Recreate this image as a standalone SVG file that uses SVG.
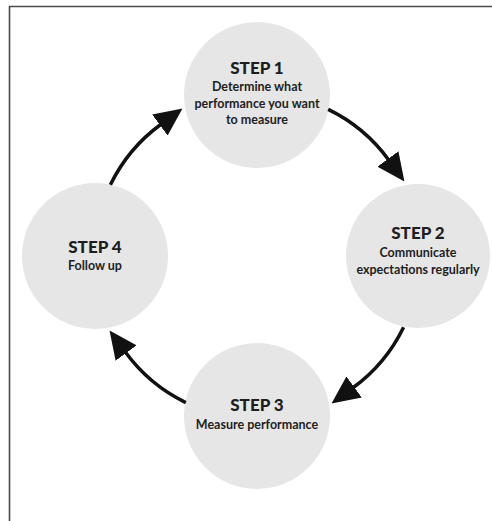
<svg xmlns="http://www.w3.org/2000/svg" width="492" height="521" viewBox="0 0 492 521">
<style>
.node circle{fill:#e6e6e6}
.t{font-family:Lato,"Open Sans","Liberation Sans",sans-serif;fill:#1e1e1e;text-anchor:middle}
.h{font-size:17px;font-weight:900}
.d{font-size:12.5px;font-weight:700}
.conn path{fill:none;stroke:#111;stroke-width:3.5}
.frame{fill:none;stroke:#4a4a4a;stroke-width:1.6}
</style>
<defs>
<marker id="ah" markerUnits="userSpaceOnUse" markerWidth="28" markerHeight="26" viewBox="0 0 28 26" refX="1" refY="13" orient="auto">
<path d="M0,0 L28,13 L0,26 z" fill="#111"/>
</marker>
</defs>
<rect width="492" height="521" fill="#fff"/>
<path class="frame" d="M9.5,521 L9.5,6.5 L492,6.5"/>
<g id="step1" class="node">
<circle cx="257" cy="95" r="73"/>
<text class="t h" x="257" y="74">STEP 1</text>
<text class="t d" x="257" y="91">Determine what</text>
<text class="t d" x="257" y="107.5">performance you want</text>
<text class="t d" x="257" y="124">to measure</text>
</g>
<g id="step2" class="node">
<circle cx="418" cy="256" r="72"/>
<text class="t h" x="418" y="239">STEP 2</text>
<text class="t d" x="418" y="257">Communicate</text>
<text class="t d" x="418" y="273.5">expectations regularly</text>
</g>
<g id="step3" class="node">
<circle cx="257" cy="416" r="73"/>
<text class="t h" x="257" y="411">STEP 3</text>
<text class="t d" x="257" y="429">Measure performance</text>
</g>
<g id="step4" class="node">
<circle cx="95" cy="256" r="73"/>
<text class="t h" x="95" y="253">STEP 4</text>
<text class="t d" x="95" y="270">Follow up</text>
</g>
<g id="connectors" class="conn">
<path d="M328.2,109.4 A163,163 0 0 1 388.5,159.7" marker-end="url(#ah)"/>
<path d="M403.6,327.2 A163,163 0 0 1 353.3,387.5" marker-end="url(#ah)"/>
<path d="M185.8,402.6 A163,163 0 0 1 125.5,352.3" marker-end="url(#ah)"/>
<path d="M110.4,184.8 A163,163 0 0 1 160.7,124.5" marker-end="url(#ah)"/>
</g>
</svg>
